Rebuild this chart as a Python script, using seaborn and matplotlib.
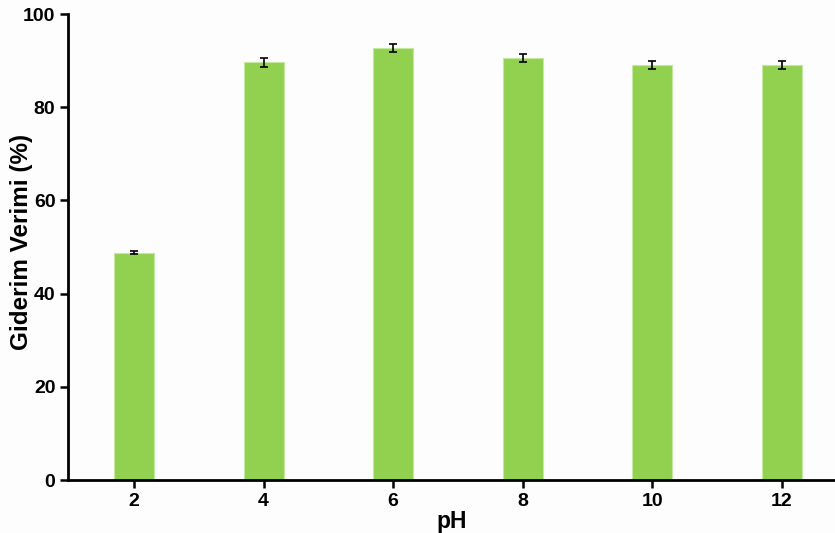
import numpy as np
import pandas as pd
import seaborn as sns
import matplotlib.pyplot as plt

# pH values and removal efficiency
ph = ['2', '4', '6', '8', '10', '12']
efficiency = [48.8, 89.6, 92.7, 90.5, 89.1, 89.1]
err = [0.4, 0.9, 0.9, 0.9, 0.8, 0.8]

df = pd.DataFrame({'pH': ph, 'Verim': efficiency})

sns.set_style('ticks')
plt.rcParams['font.family'] = ['Liberation Sans', 'DejaVu Sans']
plt.rcParams['font.weight'] = 'bold'
plt.rcParams['text.color'] = 'black'
plt.rcParams['axes.labelcolor'] = 'black'
plt.rcParams['xtick.color'] = 'black'
plt.rcParams['ytick.color'] = 'black'
plt.rcParams['axes.edgecolor'] = 'black'

fig = plt.figure(figsize=(8.35, 5.33), dpi=100)
fig.patch.set_facecolor('#fdfdfd')
ax = fig.add_axes([0.0814, 0.0994, 0.9186, 0.8743])
ax.set_facecolor('#fdfdfd')

sns.barplot(data=df, x='pH', y='Verim', color='#92d050', saturation=1,
            width=0.31, edgecolor='#c5e8a0', linewidth=0.8, ax=ax)
ax.errorbar(np.arange(len(ph)), efficiency, yerr=err, fmt='none',
            ecolor='black', elinewidth=1.2, capsize=2.6, capthick=1.2)

ax.set_ylim(0, 100)
ax.set_xlim(-0.51, 5.41)
ax.set_yticks([0, 20, 40, 60, 80, 100])
ax.set_xlabel('pH', fontsize=16.5, fontweight='bold', labelpad=0)
ax.set_ylabel('Giderim Verimi (%)', fontsize=17.5, fontweight='bold')
ax.yaxis.set_label_coords(-0.045, 0.51)
ax.tick_params(axis='both', labelsize=14, width=1.8, length=6, direction='out', pad=3)
for lab in ax.get_xticklabels() + ax.get_yticklabels():
    lab.set_fontweight('bold')
for s in ['left', 'bottom']:
    ax.spines[s].set_linewidth(2)
sns.despine(ax=ax)

plt.savefig('out.png', dpi=100, facecolor=fig.get_facecolor())
